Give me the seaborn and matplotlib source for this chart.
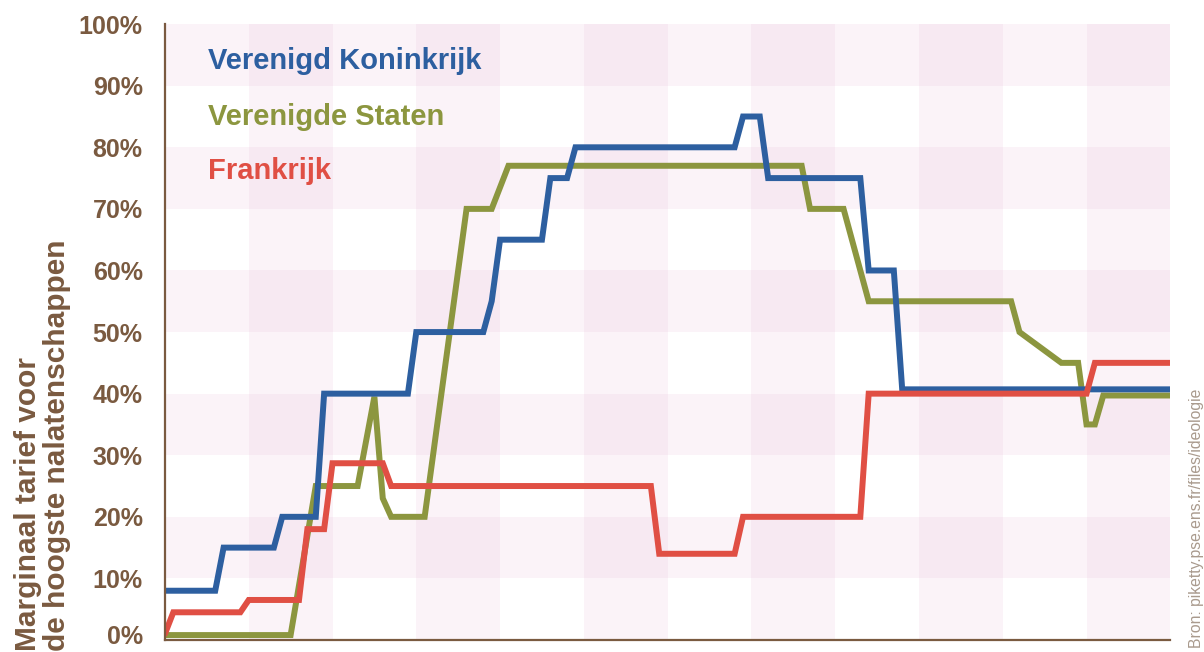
import numpy as np
import pandas as pd
import seaborn as sns
import matplotlib.pyplot as plt
import matplotlib.transforms as mtransforms
from matplotlib.colors import ListedColormap

# corner points: year and top marginal inheritance tax rate (%)
uk_years = [1900, 1906, 1907, 1913, 1914, 1918, 1919, 1929, 1930, 1938, 1939, 1940, 1945,
            1946, 1948, 1949, 1968, 1969, 1971, 1972, 1983, 1984, 1987, 1988, 2020]
uk_rates = [8, 8, 15, 15, 20, 20, 40, 40, 50, 50, 55, 65, 65,
            75, 75, 80, 80, 85, 85, 75, 75, 60, 60, 40.7, 40.7]

us_years = [1900, 1915, 1918, 1923, 1925, 1926, 1927, 1931, 1936, 1939, 1941, 1976,
            1977, 1981, 1984, 2001, 2002, 2007, 2009, 2010, 2011, 2012, 2020]
us_rates = [0.8, 0.8, 25, 25, 39.5, 23, 20, 20, 70, 70, 77, 77,
            70, 70, 55, 55, 50, 45, 45, 35, 35, 39.7, 39.7]

fr_years = [1900, 1901, 1909, 1910, 1916, 1917, 1919, 1920, 1926, 1927, 1958, 1959,
            1968, 1969, 1983, 1984, 2010, 2011, 2020]
fr_rates = [1, 4.5, 4.5, 6.5, 6.5, 18, 18, 28.7, 28.7, 25, 25, 14,
            14, 20, 20, 40, 40, 45, 45]

countries = ["Verenigd Koninkrijk", "Verenigde Staten", "Frankrijk"]
colors = {"Verenigd Koninkrijk": "#2d5fa0",
          "Verenigde Staten": "#8c963f",
          "Frankrijk": "#e04f44"}

y_ticks = list(range(0, 101, 10))
y_labels = [f"{v}%" for v in y_ticks]
decades = list(range(1900, 2021, 10))

brown = "#7a5a40"

df = pd.concat([
    pd.DataFrame({"jaar": uk_years, "tarief": uk_rates, "land": countries[0]}),
    pd.DataFrame({"jaar": us_years, "tarief": us_rates, "land": countries[1]}),
    pd.DataFrame({"jaar": fr_years, "tarief": fr_rates, "land": countries[2]}),
])

sns.set_style("white")
plt.rcParams["font.family"] = ["Liberation Sans", "DejaVu Sans"]

fig = plt.figure(figsize=(12.04, 6.52), dpi=100)
ax = fig.add_axes([0.137, 0.0184, 0.835, 0.9446])

# checkerboard background: decades x 10%-bands
rows = np.arange(len(y_ticks) - 1)
cols = np.arange(len(decades) - 1)
shade = (rows[:, None] % 2) + (cols[None, :] % 2)
bg_cmap = ListedColormap(["#ffffff", "#fbf3f8", "#f7e9f2"])
ax.pcolormesh(decades, y_ticks, shade, cmap=bg_cmap, vmin=0, vmax=2,
              shading="flat", zorder=0)

sns.lineplot(data=df, x="jaar", y="tarief", hue="land",
             hue_order=["Verenigde Staten", "Verenigd Koninkrijk", "Frankrijk"],
             palette=colors, estimator=None, sort=False, linewidth=4.3,
             legend=False, ax=ax)
for line in ax.lines:
    line.set_solid_joinstyle("miter")
    line.set_zorder(3)

ax.set_xlim(decades[0], decades[-1])
ax.set_ylim(0, 100)
ax.set_xticks([])
ax.set_yticks(y_ticks)
ax.set_yticklabels(y_labels, fontsize=18, fontweight="bold", color=brown)
ax.tick_params(axis="y", length=0, pad=16)
ax.set_xlabel("")
ax.set_ylabel("")

# nudge the 0% label up a little so it stays inside the canvas
lab0 = ax.get_yticklabels()[0]
lab0.set_transform(lab0.get_transform() +
                   mtransforms.ScaledTranslation(0, 4 / 72, fig.dpi_scale_trans))

for s in ["top", "right"]:
    ax.spines[s].set_visible(False)
for s in ["left", "bottom"]:
    ax.spines[s].set_color(brown)
    ax.spines[s].set_linewidth(1.6)
    ax.spines[s].set_zorder(4)

# coloured labels instead of a legend box
label_y = [0.927, 0.837, 0.748]
for name, yy in zip(countries, label_y):
    ax.text(0.043, yy, name, transform=ax.transAxes, color=colors[name],
            fontsize=21, fontweight="bold", va="baseline", ha="left")

fig.text(0.035, 0.001, "Marginaal tarief voor\nde hoogste nalatenschappen",
         rotation=90, ha="center", va="bottom", multialignment="left",
         fontsize=21.5, fontweight="bold", color=brown, linespacing=1.05)

fig.text(0.9935, 0.006, "Bron: piketty.pse.ens.fr/files/ideologie",
         rotation=90, ha="center", va="bottom", fontsize=11.3, color="#a99a8d")

fig.savefig("out.png", dpi=100)
